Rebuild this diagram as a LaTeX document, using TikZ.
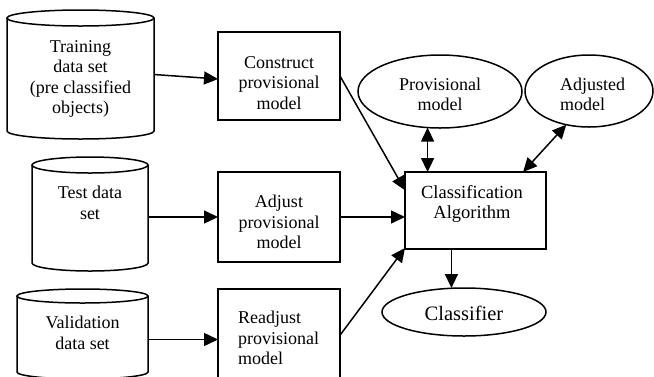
\documentclass[tikz,border=0pt]{standalone}
\usepackage{fontspec}
\setmainfont{Liberation Serif}
\usetikzlibrary{arrows.meta,shapes.geometric,calc}

% data store drawn as an upright cylinder:
% #1 = centre x, #2 = x radius, #3 = top rim y, #4 = bottom rim y, #5 = rim y radius
\newcommand\datacyl[5]{%
  \draw[line] (#1,#3) ellipse [x radius=#2pt, y radius=#5pt];
  \draw[line] ({#1-#2},#3) -- ({#1-#2},#4)
    arc [start angle=180, end angle=360, x radius=#2pt, y radius=#5pt]
    -- ({#1+#2},#3);
}

\tikzset{
  line/.style={line width=1.5pt},
  body/.style={inner sep=0pt, outer sep=0pt},
  procbox/.style={draw, line width=1.5pt, inner sep=0pt, outer sep=0pt},
  store/.style={draw, ellipse, line width=1.5pt, inner sep=0pt, outer sep=0pt},
  txt/.style={align=center, inner sep=0pt, font=\fontsize{18}{20.5}\selectfont},
  tip/.style={Triangle[length=14pt,width=13pt]},
  flow/.style={line width=1.5pt, -{Triangle[length=14pt,width=13pt]}},
  both/.style={line width=1.5pt, {Triangle[length=14pt,width=13pt]}-{Triangle[length=14pt,width=13pt]}},
}

\begin{document}
\begin{tikzpicture}[x=1pt,y=-1pt]
\clip (0,0) rectangle (654,376);

% data sets
\datacyl{80.5}{73.5}{18}{131}{8}
\node[body, minimum width=147pt, minimum height=113pt] (train) at (80.5,74.5) {};
\node[txt] (trainlbl) at (80.5,79) {Training\\data set\\(pre classified\\objects)};

\datacyl{90}{58}{165}{263}{8}
\node[body, minimum width=116pt, minimum height=98pt] (test) at (90,214) {};
\node[txt] (testlbl) at (90,203) {Test data\\set};

\datacyl{82.5}{65.5}{296}{372}{7}
\node[body, minimum width=131pt, minimum height=76pt] (valid) at (82.5,334) {};
\node[txt] (validlbl) at (82.5,333) {Validation\\data set};

% processing steps
\node[procbox, minimum width=122pt, minimum height=88pt] (construct) at (279,76) {};
\node[txt] (constructlbl) at (279,83) {Construct\\provisional\\model};

\node[procbox, minimum width=122pt, minimum height=90pt] (adjust) at (279,217) {};
\node[txt] (adjustlbl) at (279,222) {Adjust\\provisional\\model};

\node[procbox, minimum width=122pt, minimum height=101pt] (readjust) at (279,339.5) {};
\node[txt, align=left, anchor=west] (readjustlbl) at (238,338) {Readjust\\provisional\\model};

\node[procbox, minimum width=141pt, minimum height=77pt] (classif) at (475.5,210.5) {};
\node[txt, font=\fontsize{18.5}{20}\selectfont] (classiflbl) at (472,204) {Classification\\Algorithm};

% models
\node[store, minimum width=164pt, minimum height=73pt] (prov) at (440,91.5) {};
\node[txt] (provlbl) at (440,94.5) {Provisional\\model};

\node[store, minimum width=128pt, minimum height=72pt] (adj) at (589,91) {};
\node[txt, align=left, anchor=west] (adjlbl) at (560,94.5) {Adjusted\\model};

\node[store, minimum width=164pt, minimum height=48pt] (classifier) at (464,312) {};
\node[txt, font=\fontsize{20.5}{22}\selectfont] (classifierlbl) at (464,313) {Classifier};

% connectors
\draw[flow] (train.east) -- ([yshift=-3pt]construct.west);
\draw[flow] (test.east |- adjust.east) -- (adjust.west);
\draw[flow] (valid.east |- readjust.east) -- (readjust.west);

\draw[flow] (construct.east) -- (classif.164.5);
\draw[flow] (adjust.east) -- (adjust.east -| classif.west);
\draw[flow] (readjust.4) -- (classif.208);

\draw[both] (prov.251.6) -- (prov.251.6 |- classif.north);
\draw[both] (adj.236.7) -- (classif.39);
\draw[flow] (classif.238.6) -- (classif.238.6 |- classifier.north);
\end{tikzpicture}
\end{document}
